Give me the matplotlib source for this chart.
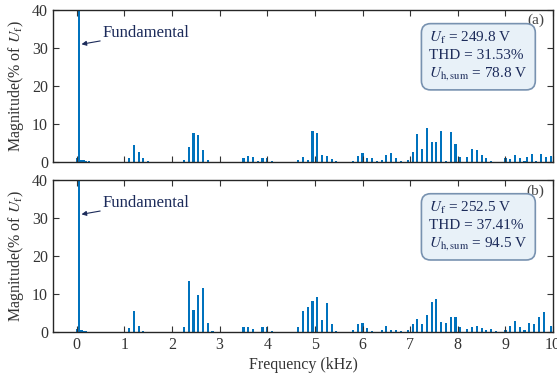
import numpy as np
import matplotlib.pyplot as plt

# harmonic orders (50 Hz base) and magnitudes in % of U_f
orders_a = [0, 1, 2, 3, 4, 5, 22, 24, 26, 28, 30, 45, 47, 49, 51, 53, 55,
            70, 72, 74, 76, 78, 80, 82, 93, 95, 97, 99, 101, 103, 105, 107, 109,
            116, 118, 120, 122, 124, 126, 128, 130, 132, 134, 136, 139, 141, 143,
            145, 147, 149, 151, 153, 155, 157, 159, 161, 164, 166, 168, 170, 172,
            174, 180, 182, 184, 186, 188, 189, 191, 193, 195, 197, 199]
mag_a = [1.05, 100, 0.6, 0.4, 0.35, 0.3, 1.1, 4.5, 2.5, 1.15, 0.25, 0.5, 4.0, 7.6,
         7.2, 3.25, 0.6, 0.9, 1.6, 1.3, 0.35, 0.9, 0.9, 0.35, 0.45, 1.4, 0.6, 8.2,
         7.6, 1.75, 1.5, 0.8, 0.3, 0.35, 1.6, 2.45, 0.9, 0.9, 0.3, 0.6, 1.7, 2.45,
         1.05, 0.35, 0.5, 2.6, 7.45, 3.4, 8.8, 5.3, 5.2, 8.25, 0.3, 7.9, 4.7, 1.4,
         1.3, 3.4, 3.25, 1.7, 0.9, 0.3, 0.9, 0.8, 1.7, 1.0, 0.35, 1.3, 2.2, 0.35,
         2.2, 1.2, 1.6]

orders_b = [0, 1, 2, 3, 4, 22, 24, 26, 28, 45, 47, 49, 51, 53, 55, 57,
            70, 72, 74, 78, 80, 82, 93, 95, 97, 99, 101, 103, 105, 107, 109,
            116, 118, 120, 122, 124, 128, 130, 132, 134, 136, 139, 141, 143, 145,
            147, 149, 151, 153, 155, 157, 159, 161, 164, 166, 168, 170, 172, 174,
            176, 180, 182, 184, 186, 188, 190, 192, 194, 196, 199]
mag_b = [0.8, 100, 0.4, 0.3, 0.25, 1.15, 5.45, 1.65, 0.3, 1.25, 13.4, 5.9, 9.65,
         11.7, 2.4, 0.2, 1.3, 1.3, 0.7, 1.4, 1.4, 0.35, 1.4, 5.45, 6.45, 8.15,
         9.2, 3.15, 7.6, 2.0, 0.2, 0.5, 2.1, 2.3, 1.05, 0.35, 0.45, 1.65, 0.5,
         0.45, 0.25, 0.5, 2.0, 3.3, 2.2, 4.5, 7.9, 8.6, 2.7, 2.3, 3.95, 3.85, 1.2,
         0.9, 1.2, 1.5, 0.95, 0.45, 0.8, 0.2, 0.6, 1.6, 2.9, 1.3, 0.5, 2.45, 2.0,
         3.95, 5.3, 1.6]

labels = ["(a)", "(b)"]
boxes = [r"$U_\mathrm{f}$ = 249.8 V" + "\nTHD = 31.53%\n" + r"$U_\mathrm{h,sum}$ = 78.8 V",
         r"$U_\mathrm{f}$ = 252.5 V" + "\nTHD = 37.41%\n" + r"$U_\mathrm{h,sum}$ = 94.5 V"]

plt.rcParams['font.family'] = ['Liberation Serif', 'DejaVu Serif']
plt.rcParams['mathtext.fontset'] = 'stix'

navy = '#1c2b5a'
fig = plt.figure(figsize=(5.57, 3.73), dpi=100)
ax1 = fig.add_axes([0.095, 0.566, 0.898, 0.407])
ax2 = fig.add_axes([0.095, 0.110, 0.898, 0.407])

for ax, orders, mags, lab, txt in zip([ax1, ax2], [orders_a, orders_b], [mag_a, mag_b], labels, boxes):
    f = np.array(orders) * 0.05
    ax.bar(f, mags, width=0.045, color='#0072BD', linewidth=0)
    ax.set_xlim(-0.5, 10)
    ax.set_ylim(0, 40)
    ax.set_xticks(range(11))
    ax.set_yticks([0, 10, 20, 30, 40])
    ax.tick_params(direction='in', top=True, right=True, length=4, width=0.8,
                   labelsize=11.5, colors='#333333')
    for s in ax.spines.values():
        s.set_color('#262626')
        s.set_linewidth(1.0)
    ax.set_ylabel(r'Magnitude(% of $U_\mathrm{f}$)', fontsize=11.5, color='#333333', labelpad=4)
    ax.annotate('Fundamental', xy=(0.1, 31), xytext=(0.55, 34), color=navy, fontsize=12,
                va='center', arrowprops=dict(arrowstyle='-|>', color=navy, lw=0.8,
                                             mutation_scale=7, shrinkA=0, shrinkB=0))
    ax.text(0.965, 0.93, lab, transform=ax.transAxes, ha='center', va='center',
            fontsize=11, color='#444444')
    ax.text(0.752, 0.87, txt, transform=ax.transAxes, ha='left', va='top', fontsize=11,
            color=navy, linespacing=1.3,
            bbox=dict(boxstyle='round,pad=0.5,rounding_size=0.6', fc='#e8f1f8', ec='#7892b0', lw=1.2))

ax1.tick_params(labelbottom=False)
ax2.set_xlabel('Frequency (kHz)', fontsize=11.5, color='#333333', labelpad=3)

fig.savefig('out.png', dpi=100)
